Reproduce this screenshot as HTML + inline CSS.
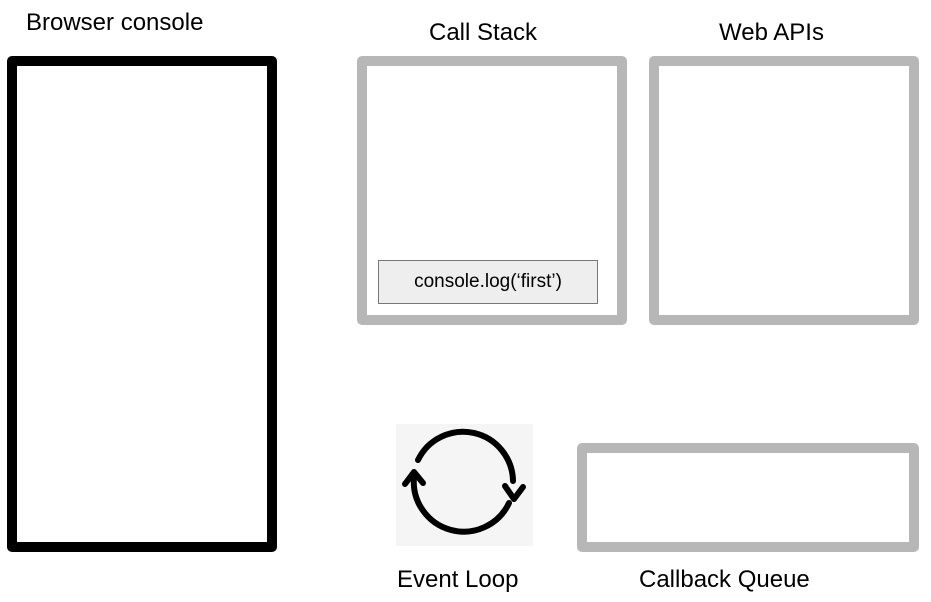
<!DOCTYPE html>
<html><head><style>
body{margin:0;width:931px;height:602px;background:#fff;position:relative;overflow:hidden;font-family:"Liberation Sans",Arial,sans-serif;}
.b{position:absolute;box-sizing:border-box;border-radius:5px;}
.t{position:absolute;font-size:24px;color:#000;white-space:nowrap;}
</style></head><body>
<div class="t" style="left:26px;top:9px;">Browser console</div>
<div class="t" style="left:429px;top:19px;">Call Stack</div>
<div class="t" style="left:719px;top:19px;">Web APIs</div>
<div class="t" style="left:397px;top:566px;">Event Loop</div>
<div class="t" style="left:639px;top:566px;">Callback Queue</div>
<div class="b" style="left:7px;top:56px;width:270px;height:496px;border:10px solid #000;"></div>
<div class="b" style="left:357px;top:56px;width:270px;height:269px;border:10px solid #b7b7b7;"></div>
<div class="b" style="left:649px;top:56px;width:270px;height:269px;border:10px solid #b7b7b7;"></div>
<div class="b" style="left:577px;top:443px;width:342px;height:109px;border:10px solid #b7b7b7;"></div>
<div style="position:absolute;left:378px;top:260px;width:220px;height:44px;box-sizing:border-box;background:#eee;border:1.5px solid #777;font-size:19px;text-align:center;line-height:41px;">console.log(‘first’)</div>
<div style="position:absolute;left:396px;top:424px;width:137px;height:122px;background:#f5f5f5;"></div>
<svg style="position:absolute;left:0;top:0" width="931" height="602">
<g fill="none" stroke="#000" stroke-width="6" stroke-linecap="round" stroke-linejoin="round">
<path d="M418 460 A50 50 0 0 1 513 481"/>
<path d="M509 503 A50 50 0 0 1 414 477"/>
<path d="M405 484 L414 472 L423 483"/>
<path d="M505 486 L514 499 L523 487"/>
</g>
</svg>
</body></html>
